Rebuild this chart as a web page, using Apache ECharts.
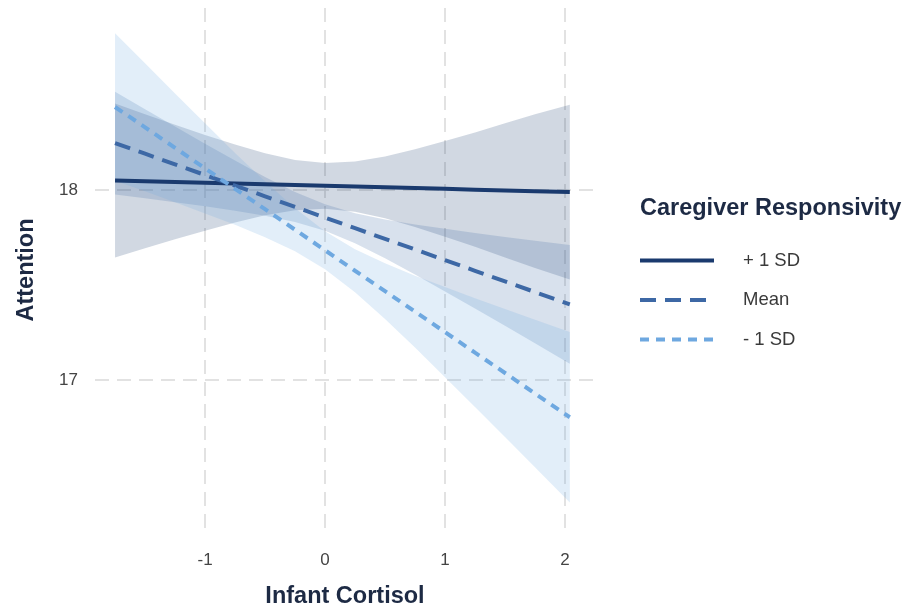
<!DOCTYPE html>
<html>
<head>
<meta charset="utf-8">
<script src="https://cdn.jsdelivr.net/npm/echarts@6/dist/echarts.min.js"></script>
<style>html,body{margin:0;padding:0;background:#fff;}#chart{width:915px;height:605px;}</style>
</head>
<body>
<div id="chart"></div>
<script>
// Infant cortisol (x) sample points
const cortisol = [-1.75, -1.5, -1.25, -1, -0.75, -0.5, -0.25, 0, 0.25, 0.5, 0.75, 1, 1.25, 1.5, 1.75, 2.04];

// + 1 SD caregiver responsivity
const plusFit  = [18.050, 18.046, 18.042, 18.038, 18.034, 18.030, 18.026, 18.022, 18.018, 18.014, 18.010, 18.006, 18.002, 17.998, 17.994, 17.989];
const plusHigh = [18.455, 18.399, 18.343, 18.290, 18.239, 18.193, 18.158, 18.142, 18.150, 18.177, 18.215, 18.258, 18.303, 18.351, 18.399, 18.449];
const plusLow  = [17.645, 17.693, 17.741, 17.786, 17.829, 17.867, 17.894, 17.902, 17.886, 17.851, 17.805, 17.754, 17.701, 17.645, 17.589, 17.529];

// Mean caregiver responsivity
const meanFit  = [18.247, 18.191, 18.135, 18.079, 18.023, 17.967, 17.911, 17.855, 17.799, 17.743, 17.687, 17.631, 17.575, 17.519, 17.463, 17.398];
const meanHigh = [18.517, 18.425, 18.334, 18.244, 18.155, 18.069, 17.990, 17.925, 17.878, 17.845, 17.819, 17.796, 17.774, 17.753, 17.733, 17.710];
const meanLow  = [17.977, 17.957, 17.936, 17.914, 17.891, 17.865, 17.832, 17.785, 17.720, 17.641, 17.555, 17.466, 17.376, 17.285, 17.193, 17.086];

// - 1 SD caregiver responsivity
const minusFit  = [18.437, 18.330, 18.222, 18.114, 18.006, 17.899, 17.791, 17.683, 17.575, 17.468, 17.360, 17.252, 17.144, 17.037, 16.929, 16.804];
const minusHigh = [18.825, 18.667, 18.508, 18.351, 18.195, 18.046, 17.904, 17.783, 17.688, 17.615, 17.549, 17.489, 17.430, 17.374, 17.317, 17.253];
const minusLow  = [18.049, 17.993, 17.936, 17.877, 17.817, 17.752, 17.678, 17.583, 17.462, 17.321, 17.171, 17.015, 16.858, 16.700, 16.541, 16.355];

const xTicks = [-1, 0, 1, 2];
const yTicks = [17, 18];
const seriesNames = ['+ 1 SD', 'Mean', '- 1 SD'];

const FONT = '"Liberation Sans", Arial, Helvetica, sans-serif';
const TITLE_COLOR = '#1d2a44';
const TITLE_SIZE = 23.5;

function pairs(xs, ys) { return xs.map((x, i) => [x, ys[i]]); }

function bandSeries(name, low, high, fill) {
  return {
    type: 'custom',
    name: name,
    silent: true,
    clip: true,
    z: 1,
    data: [[cortisol[0], low[0]]],
    renderItem: function (params, api) {
      const pts = [];
      for (let i = 0; i < cortisol.length; i++) pts.push(api.coord([cortisol[i], high[i]]));
      for (let i = cortisol.length - 1; i >= 0; i--) pts.push(api.coord([cortisol[i], low[i]]));
      return { type: 'polygon', shape: { points: pts }, style: { fill: fill, stroke: null } };
    }
  };
}

const chart = echarts.init(document.getElementById('chart'), null, { renderer: 'canvas' });
chart.setOption({
  animation: false,
  backgroundColor: '#ffffff',
  title: {
    text: 'Caregiver Responsivity',
    left: 640,
    top: 197,
    padding: 0,
    textStyle: { fontFamily: FONT, fontSize: TITLE_SIZE, fontWeight: 'bold', color: TITLE_COLOR }
  },
  legend: {
    data: seriesNames,
    orient: 'vertical',
    left: 638,
    top: 251,
    padding: 0,
    itemWidth: 74,
    itemHeight: 20,
    itemGap: 20.5,
    selectedMode: false,
    itemStyle: { opacity: 0 },
    lineStyle: { width: 4 },
    textStyle: { fontFamily: FONT, fontSize: 18.5, color: '#3a3a3a', padding: [0, 0, 0, 24] }
  },
  grid: { left: 95, right: 320, top: 8, bottom: 73, outerBoundsMode: 'none', containLabel: false },
  xAxis: {
    type: 'value',
    min: -1.917,
    max: 2.25,
    name: 'Infant Cortisol',
    nameLocation: 'middle',
    nameGap: 53,
    nameTextStyle: { fontFamily: FONT, fontSize: TITLE_SIZE, fontWeight: 'bold', color: TITLE_COLOR },
    axisLine: { show: false },
    axisTick: { show: false, customValues: xTicks },
    axisLabel: { customValues: xTicks, fontFamily: FONT, fontSize: 17, color: '#444', margin: 20 },
    splitLine: { show: true, lineStyle: { color: '#d9d9d9', width: 1.5, type: [14, 8] } }
  },
  yAxis: {
    type: 'value',
    min: 16.2,
    max: 18.958,
    name: 'Attention',
    nameLocation: 'middle',
    nameGap: 56,
    nameRotate: 90,
    nameTextStyle: { fontFamily: FONT, fontSize: TITLE_SIZE, fontWeight: 'bold', color: TITLE_COLOR },
    axisLine: { show: false },
    axisTick: { show: false, customValues: yTicks },
    axisLabel: { customValues: yTicks, fontFamily: FONT, fontSize: 17, color: '#444', margin: 17 },
    splitLine: { show: true, lineStyle: { color: '#d9d9d9', width: 1.5, type: [14, 8] } }
  },
  series: [
    bandSeries('band+1', plusLow, plusHigh, 'rgba(26,58,110,0.2)'),
    bandSeries('bandMean', meanLow, meanHigh, 'rgba(61,104,165,0.2)'),
    bandSeries('band-1', minusLow, minusHigh, 'rgba(110,168,224,0.2)'),
    {
      type: 'line', name: seriesNames[0], data: pairs(cortisol, plusFit), showSymbol: false, symbol: 'none', z: 3,
      lineStyle: { color: '#1a3a6e', width: 4, type: 'solid' }, itemStyle: { color: '#1a3a6e' }
    },
    {
      type: 'line', name: seriesNames[1], data: pairs(cortisol, meanFit), showSymbol: false, symbol: 'none', z: 3,
      lineStyle: { color: '#3d68a5', width: 4, type: [16, 9] }, itemStyle: { color: '#3d68a5' }
    },
    {
      type: 'line', name: seriesNames[2], data: pairs(cortisol, minusFit), showSymbol: false, symbol: 'none', z: 3,
      lineStyle: { color: '#6ea8e0', width: 4, type: [9, 7] }, itemStyle: { color: '#6ea8e0' }
    }
  ]
});
</script>
</body>
</html>
